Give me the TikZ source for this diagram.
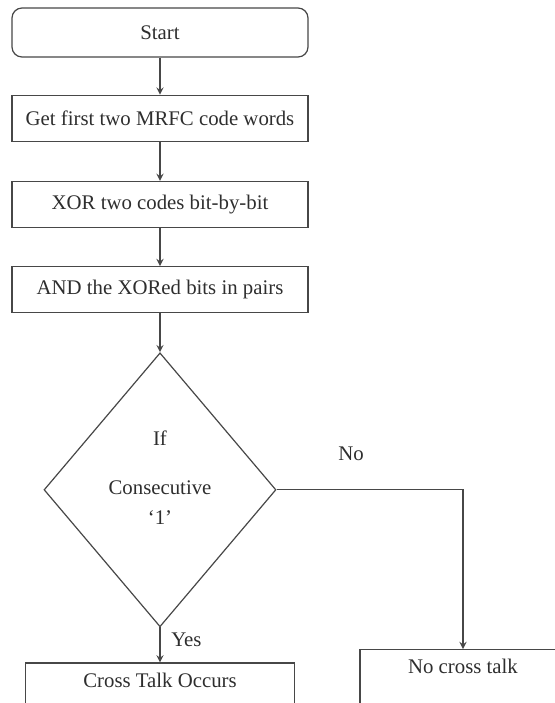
\documentclass[tikz,border=0pt]{standalone}
\usepackage{fontspec}
\setmainfont{Liberation Serif}
\usepackage{tikz}
\usetikzlibrary{shapes.geometric, positioning, arrows}
\usepackage{xcolor}

\definecolor{linegray}{gray}{0.28}
\definecolor{textgray}{gray}{0.18}

\begin{document}
\begin{tikzpicture}[
    ->,
    >=stealth,
    x=0.5pt, y=-0.5pt,
    draw=linegray,
    semithick
]

\tikzstyle{every node}=[
    text=textgray,
    font=\fontsize{10.4}{12.5}\selectfont
]
\tikzstyle{startbox}=[
    draw=linegray, rectangle, rounded corners=5pt,
    minimum width=148pt, minimum height=24.5pt
]
\tikzstyle{procbox}=[
    draw=linegray, rectangle,
    minimum width=148pt, minimum height=23pt
]
\tikzstyle{decision}=[
    draw=linegray, diamond, inner sep=0pt,
    minimum width=116pt, minimum height=137pt
]
\tikzstyle{resultbox}=[
    draw=linegray, rectangle, inner ysep=2pt,
    text height=10pt, text depth=15pt
]

\useasboundingbox (0,0) rectangle (554,703);

\node[startbox] (start) at (160,32.5) {Start};
\node[procbox] (getwords) [below=18.5pt of start] {Get first two MRFC code words};
\node[procbox] (xorbits) [below=19.5pt of getwords] {XOR two codes bit-by-bit};
\node[procbox] (andpairs) [below=19pt of xorbits] {AND the XORed bits in pairs};
\node[decision] (consec) [below=19.5pt of andpairs] {};
\node[align=center] (condtext) at ([yshift=6.2pt]consec.center) {If\\[12pt]Consecutive\\[2.5pt]`1'};
\node[resultbox, minimum width=134.5pt] (occurs) [below=17.5pt of consec] {Cross Talk Occurs};
\node[resultbox, minimum width=103pt, anchor=north] (nocross) at (463,649) {No cross talk};

\path
(start) edge (getwords)
(getwords) edge (xorbits)
(xorbits) edge (andpairs)
(andpairs) edge (consec)
(consec) edge node[right, pos=0.35, xshift=2pt] {Yes} (occurs);

\draw (consec.east) -| node[pos=0.2, above=11pt] {No} (nocross.north);

\end{tikzpicture}
\end{document}
